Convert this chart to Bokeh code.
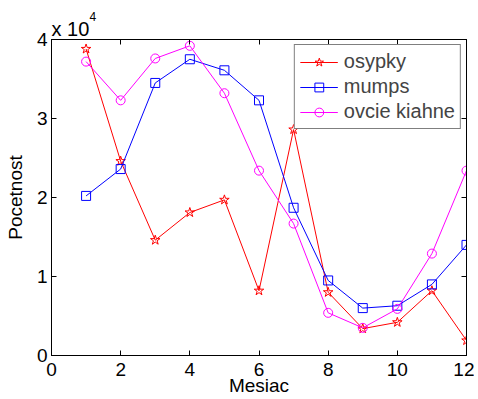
from bokeh.plotting import figure
from bokeh.models import (Range1d, LinearAxis, FixedTicker, CustomJSTickFormatter,
                          Legend, LegendItem, Title)
from bokeh.embed import file_html
from bokeh.resources import INLINE

months = [1, 2, 3, 4, 5, 6, 7, 8, 9, 10, 11, 12]
osypky = [38800, 24600, 14600, 18100, 19700, 8200, 28600, 8000, 3400, 4200, 8200, 1900]
mumps = [20200, 23600, 34500, 37500, 36100, 32300, 18700, 9500, 6000, 6300, 9000, 14000]
ovcie_kiahne = [37200, 32300, 37600, 39200, 33200, 23400, 16700, 5400, 3500, 5900, 12900, 23400]

x_ticks = [0, 2, 4, 6, 8, 10, 12]
y_ticks = [0, 10000, 20000, 30000, 40000]

FONT = "Liberation Sans"
FS = "19px"

p = figure(width=474, height=399, output_backend="svg", toolbar_location=None,
           x_range=Range1d(0, 12), y_range=Range1d(0, 40000),
           min_border_left=51, min_border_right=8, min_border_top=39, min_border_bottom=44)
p.grid.visible = False
p.outline_line_color = "black"
p.outline_line_width = 1
p.background_fill_color = "white"
p.border_fill_color = "white"

fmt = CustomJSTickFormatter(code="return (tick/10000).toFixed(0);")

def style_axis(ax, labels=True):
    ax.axis_line_color = "black"
    ax.axis_line_width = 1
    ax.major_tick_in = 5
    ax.major_tick_out = 0
    ax.minor_tick_line_color = None
    ax.major_tick_line_color = "black"
    ax.major_label_text_font = FONT
    ax.major_label_text_color = "black"
    if labels:
        ax.major_label_text_font_size = FS
    else:
        ax.major_label_text_font_size = "0px"
        ax.major_label_text_alpha = 0

p.xaxis.ticker = FixedTicker(ticks=x_ticks)
p.yaxis.ticker = FixedTicker(ticks=y_ticks)
p.yaxis.formatter = fmt
style_axis(p.xaxis[0])
style_axis(p.yaxis[0])
p.xaxis.major_label_standoff = 7
p.yaxis.major_label_standoff = 4
p.xaxis.axis_label = "Mesiac"
p.xaxis.axis_label_standoff = -4
p.yaxis.axis_label = "Pocetnost"
p.yaxis.axis_label_standoff = 8
for ax in (p.xaxis[0], p.yaxis[0]):
    ax.axis_label_text_font = FONT
    ax.axis_label_text_font_size = FS
    ax.axis_label_text_font_style = "normal"
    ax.axis_label_text_color = "black"

top = LinearAxis(ticker=FixedTicker(ticks=x_ticks))
right = LinearAxis(ticker=FixedTicker(ticks=y_ticks))
style_axis(top, labels=False)
style_axis(right, labels=False)
top.major_label_standoff = 0
right.major_label_standoff = 0
p.add_layout(top, "above")
p.add_layout(right, "right")

t1 = Title(text="x 10", align="left", text_font=FONT, text_font_size="20px",
           text_font_style="normal", text_color="black", standoff=0, offset=0)
t2 = Title(text="4", align="left", text_font=FONT, text_font_size="12px",
           text_font_style="normal", text_color="black", standoff=-10, offset=38)
p.add_layout(t1, "above")
p.add_layout(t2, "above")

series = [
    ("osypky", osypky, "#ff0000", "star", 10),
    ("mumps", mumps, "#0000ff", "square", 9),
    ("ovcie kiahne", ovcie_kiahne, "#ff00ff", "circle", 9),
]
items = []
for name, vals, col, mk, sz in series:
    l = p.line(months, vals, line_color=col, line_width=1)
    s = p.scatter(months, vals, marker=mk, size=sz, line_color=col, fill_color=None, line_width=1)
    items.append(LegendItem(label=name, renderers=[l, s]))

legend = Legend(items=items, location="top_right", margin=5, padding=5, spacing=2,
                glyph_width=38, glyph_height=22, label_height=22, label_standoff=6,
                label_text_font=FONT, label_text_font_size="20px",
                border_line_color="black", border_line_width=1,
                background_fill_color="white", background_fill_alpha=1)
p.add_layout(legend)

open("out.html", "w").write(file_html(p, INLINE))
